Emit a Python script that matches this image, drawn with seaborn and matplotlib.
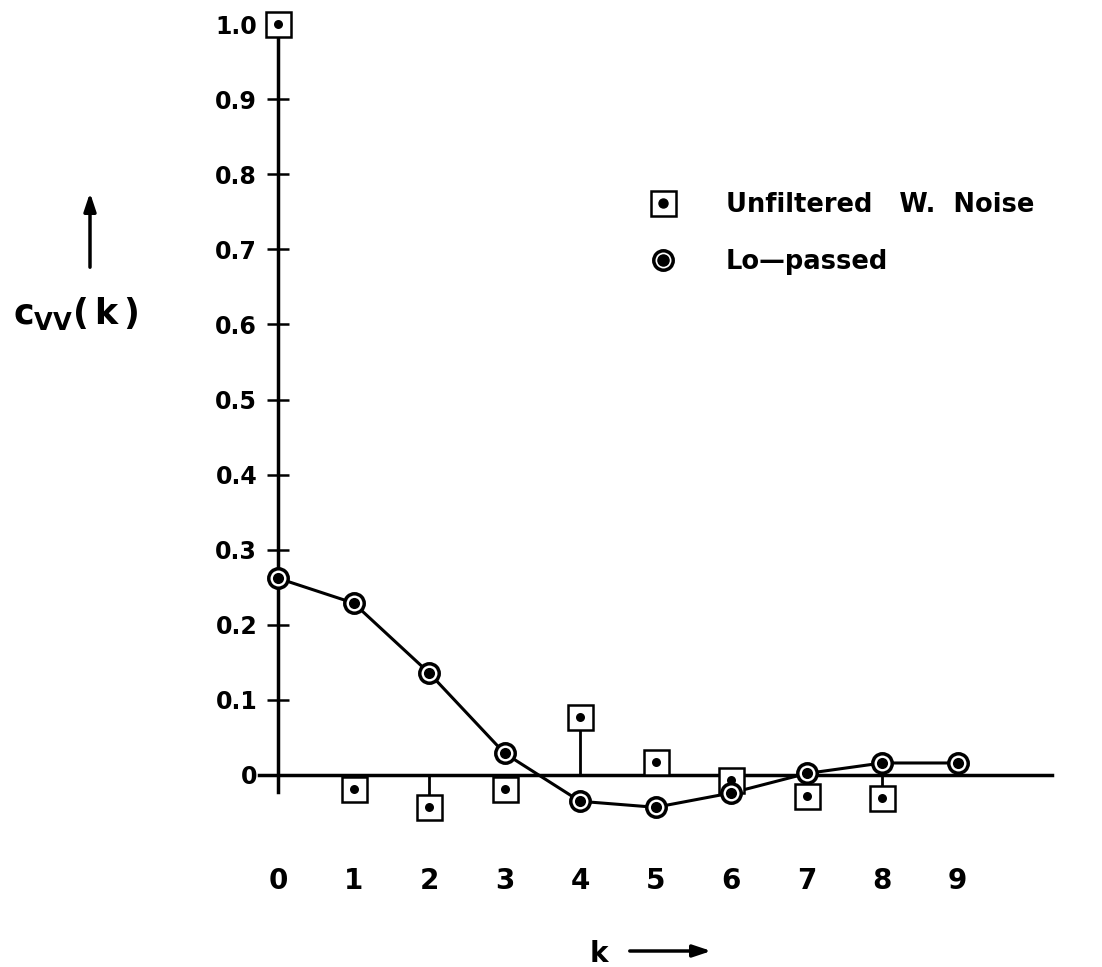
import numpy as np
import pandas as pd
import seaborn as sns
import matplotlib.pyplot as plt
from matplotlib.lines import Line2D

# valeurs
k_unf = [0, 1, 2, 3, 4, 5, 6, 7, 8]
unfiltered = [1.0, -0.019, -0.042, -0.019, 0.077, 0.017, -0.007, -0.028, -0.031]

k_lo = [0, 1, 2, 3, 4, 5, 6, 7, 8, 9]
lo_passed = [0.262, 0.229, 0.136, 0.029, -0.035, -0.043, -0.024, 0.002, 0.016, 0.016]

xticks = [0, 1, 2, 3, 4, 5, 6, 7, 8, 9]
xticklabels = ["0", "1", "2", "3", "4", "5", "6", "7", "8", "9"]
yticks = [0, 0.1, 0.2, 0.3, 0.4, 0.5, 0.6, 0.7, 0.8, 0.9, 1.0]
yticklabels = ["0", "0.1", "0.2", "0.3", "0.4", "0.5", "0.6", "0.7", "0.8", "0.9", "1.0"]

legend_labels = ["Unfiltered   W.  Noise", "Lo\u2014passed"]

df_unf = pd.DataFrame({"k": k_unf, "c": unfiltered})
df_lo = pd.DataFrame({"k": k_lo, "c": lo_passed})

sns.set_theme(style="white")
plt.rcParams["font.family"] = ["DejaVu Sans"]
plt.rcParams["font.weight"] = "bold"
plt.rcParams["text.color"] = "black"
plt.rcParams["mathtext.fontset"] = "custom"
plt.rcParams["mathtext.rm"] = "DejaVu Sans:bold"
plt.rcParams["mathtext.default"] = "rm"

W, H = 1102, 967
fig = plt.figure(figsize=(W / 100, H / 100), dpi=100)
ax = fig.add_axes([0, 0, 1, 1])


def px(x, y):
    # pixels -> fraction de la figure
    return x / W, 1 - y / H


# echelle : k=0 -> x 278, 75.5 px par unite ; c=0 -> y 775, 751 px par unite
ax.set_xlim(-278 / 75.5, (W - 278) / 75.5)
ax.set_ylim((775 - H) / 751, 775 / 751)

for s in ["top", "right"]:
    ax.spines[s].set_visible(False)
ax.spines["left"].set_position(("data", 0))
ax.spines["bottom"].set_position(("data", 0))
ax.spines["left"].set_bounds(-0.023, 1.0)
ax.spines["bottom"].set_bounds(-0.25, 10.25)
for s in ["left", "bottom"]:
    ax.spines[s].set_linewidth(2.5)
    ax.spines[s].set_color("black")

ax.set_yticks(yticks)
ax.set_yticklabels(yticklabels)
ax.set_xticks(xticks)
ax.set_xticklabels(xticklabels)
ax.tick_params(axis="y", direction="inout", length=16, width=1.8, pad=7,
               labelsize=17, colors="black", left=True)
ax.tick_params(axis="x", length=0, pad=66, labelsize=20, colors="black")

# tiges des points non filtres
ax.vlines(df_unf["k"], 0, df_unf["c"], color="black", linewidth=2, zorder=2)

# courbe lo-passed
sns.lineplot(data=df_lo, x="k", y="c", color="black", linewidth=2.2,
             ax=ax, zorder=3, legend=False)

# carres + point central
ax.plot(df_unf["k"], df_unf["c"], ls="none", marker="s", ms=18,
        mfc="white", mec="black", mew=1.8, zorder=4)
sns.scatterplot(data=df_unf, x="k", y="c", color="black", s=42,
                linewidth=0, ax=ax, zorder=5, legend=False)

# cercles + point central
ax.plot(df_lo["k"], df_lo["c"], ls="none", marker="o", ms=14,
        mfc="white", mec="black", mew=2.5, zorder=6)
sns.scatterplot(data=df_lo, x="k", y="c", color="black", s=64,
                linewidth=0, ax=ax, zorder=7, legend=False)

ax.set_xlabel("")
ax.set_ylabel("")

# legende
h_sq = Line2D([], [], ls="none", marker="s", ms=18, mfc="white", mec="black", mew=1.8)
h_sqdot = Line2D([], [], ls="none", marker="o", ms=6.5, color="black")
h_ci = Line2D([], [], ls="none", marker="o", ms=14, mfc="white", mec="black", mew=2.5)
h_cidot = Line2D([], [], ls="none", marker="o", ms=8, color="black")
leg = ax.legend([(h_sq, h_sqdot), (h_ci, h_cidot)], legend_labels,
                loc="upper left", bbox_to_anchor=px(645, 192), bbox_transform=fig.transFigure,
                frameon=False, fontsize=18.5, handlelength=1.4, handletextpad=1.75,
                labelspacing=1.2, borderpad=0, borderaxespad=0)
for t in leg.get_texts():
    t.set_color("black")

# etiquette de l'axe vertical
fig.text(*px(13, 324), r"$c_{VV}(\,k\,)$", fontsize=25, ha="left", va="baseline")
ax.annotate("", xy=px(90, 190), xytext=px(90, 270), xycoords="figure fraction",
            textcoords="figure fraction",
            arrowprops=dict(arrowstyle="-|>,head_length=0.9,head_width=0.3",
                            color="black", lw=2.5))

# etiquette de l'axe horizontal
fig.text(*px(599, 962), "k", fontsize=20, ha="center", va="baseline")
ax.annotate("", xy=px(714, 951), xytext=px(627, 951), xycoords="figure fraction",
            textcoords="figure fraction",
            arrowprops=dict(arrowstyle="-|>,head_length=0.9,head_width=0.3",
                            color="black", lw=2.5))

fig.savefig("out.png", dpi=100)
